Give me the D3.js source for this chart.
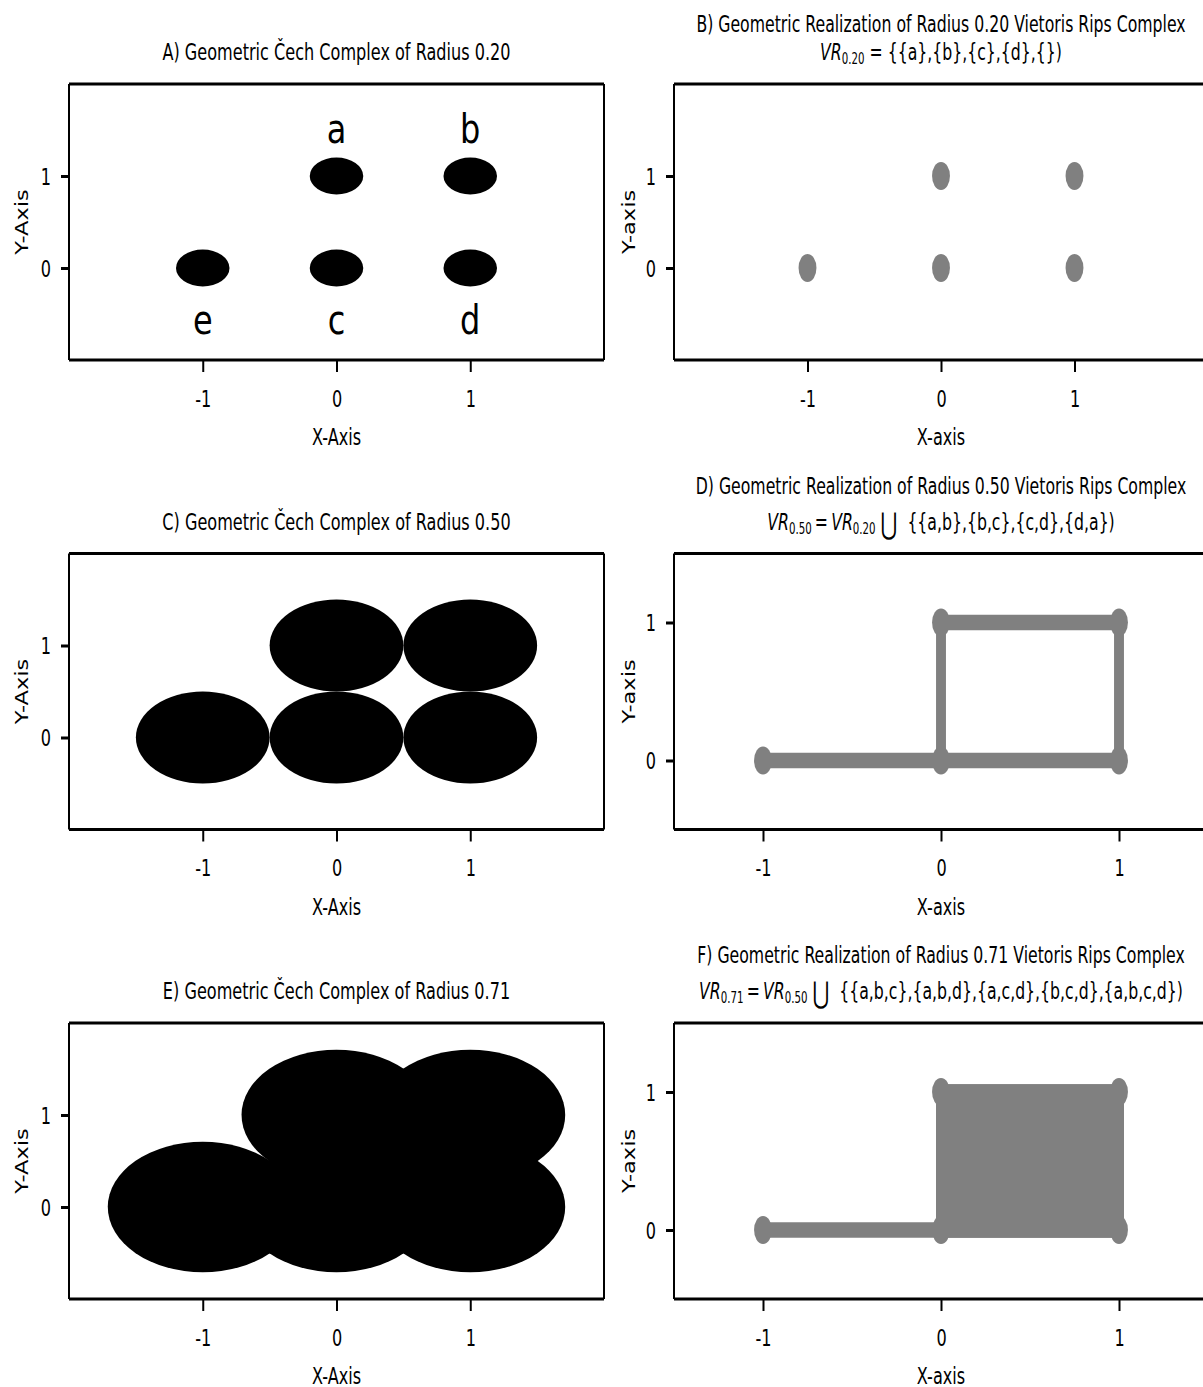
<!DOCTYPE html>
<html>
<head>
<meta charset="utf-8">
<script src="https://cdn.jsdelivr.net/npm/d3@7"></script>
<style>
body { margin: 0; background: #fff; }
svg { display: block; font-family: "DejaVu Sans", sans-serif; }
</style>
</head>
<body>
<svg id="fig" width="1203" height="1387"></svg>
<script>
// points of the complex
var pointNames = ["a", "b", "c", "d", "e"];
var pointX = [0, 1, 0, 1, -1];
var pointY = [1, 1, 0, 0, 0];

// Cech radii (left column)
var cechRadii = [0.20, 0.50, 0.71];
var cechTitles = [
  "A) Geometric Čech Complex of Radius 0.20",
  "C) Geometric Čech Complex of Radius 0.50",
  "E) Geometric Čech Complex of Radius 0.71"
];

// Vietoris Rips (right column)
var vrTitles = [
  "B) Geometric Realization of Radius 0.20 Vietoris Rips Complex",
  "D) Geometric Realization of Radius 0.50 Vietoris Rips Complex",
  "F) Geometric Realization of Radius 0.71 Vietoris Rips Complex"
];
var vrSub = ["0.20", "0.50", "0.71"];
var vrPrev = [null, "0.20", "0.50"];
var vrAdded = [
  "{{a},{b},{c},{d},{})",
  "{{a,b},{b,c},{c,d},{d,a})",
  "{{a,b,c},{a,b,d},{a,c,d},{b,c,d},{a,b,c,d})"
];
var edges = [["a", "b"], ["a", "c"], ["b", "d"], ["c", "d"], ["e", "c"]];
var faces = [["a", "b", "d", "c"]];
var vrEdges = [[], edges, edges];
var vrFaces = [[], [], faces];

// axes
var xTicks = [-1, 0, 1];
var yTicks = [0, 1];
var cechXDomain = [-2, 2], cechYDomain = [-1, 2];
var vrXDomains = [[-2, 2], [-1.5, 1.5], [-1.5, 1.5]];
var vrYDomains = [[-1, 2], [-0.5, 1.5], [-0.5, 1.5]];

var svg = d3.select("#fig");
var fs = 23;        // font size
var kx = 0.70;      // horizontal squeeze of text
var kr = 0.683;     // squeeze for the right column titles
var mk = 0.64;      // horizontal squeeze of markers/lines
var rowTop = [84, 553.5, 1023], rowH = 276;
var colLeft = [69, 604], colRight = [674, 1208];
var gray = "#808080";

function idx(name) { return pointNames.indexOf(name); }

function drawAxes(left, right, top, xd, yd, xlab, ylab, ylabX) {
  var bottom = top + rowH;
  var x = d3.scaleLinear().domain(xd).range([left, right]);
  var y = d3.scaleLinear().domain(yd).range([bottom, top]);
  var g = svg.append("g");

  // x axis
  var ax = g.append("g")
    .attr("transform", "translate(0," + bottom + ")")
    .call(d3.axisBottom(x).tickValues(xTicks).tickSize(12).tickSizeOuter(0)
      .tickFormat(function(d) { return String(d); }));
  ax.select(".domain").remove();
  ax.selectAll("line").attr("stroke", "#000").attr("stroke-width", 2);
  ax.selectAll("text")
    .attr("y", 47).attr("dy", null)
    .attr("font-size", fs).attr("font-family", "DejaVu Sans").attr("fill", "#000")
    .attr("transform", "scale(" + kx + ",1)");

  // y axis
  var ay = g.append("g")
    .attr("transform", "translate(" + left + ",0)")
    .call(d3.axisLeft(y).tickValues(yTicks).tickSize(8).tickSizeOuter(0)
      .tickFormat(function(d) { return String(d); }));
  ay.select(".domain").remove();
  ay.selectAll("line").attr("stroke", "#000").attr("stroke-width", 3);
  ay.selectAll("text")
    .attr("x", -18 / kx).attr("dy", "0.36em")
    .attr("font-size", fs).attr("font-family", "DejaVu Sans").attr("fill", "#000")
    .attr("transform", "scale(" + kx + ",1)");

  // labels
  g.append("text")
    .attr("transform", "translate(" + ((left + right) / 2) + "," + (bottom + 85) + ") scale(" + kx + ",1)")
    .attr("text-anchor", "middle").attr("font-size", fs)
    .text(xlab);
  g.append("text")
    .attr("transform", "translate(" + ylabX + "," + ((top + bottom) / 2) + ") rotate(-90) scale(1,0.8)")
    .attr("text-anchor", "middle").attr("font-size", 22.5)
    .text(ylab);

  return { g: g, x: x, y: y, top: top, bottom: bottom, left: left, right: right };
}

function drawFrame(p) {
  var f = p.g.append("g").attr("stroke", "#000");
  f.append("line").attr("x1", p.left).attr("x2", p.right).attr("y1", p.top).attr("y2", p.top).attr("stroke-width", 3);
  f.append("line").attr("x1", p.left).attr("x2", p.right).attr("y1", p.bottom).attr("y2", p.bottom).attr("stroke-width", 3);
  f.append("line").attr("x1", p.left).attr("x2", p.left).attr("y1", p.top).attr("y2", p.bottom).attr("stroke-width", 2);
  f.append("line").attr("x1", p.right).attr("x2", p.right).attr("y1", p.top).attr("y2", p.bottom).attr("stroke-width", 2);
}

// LEFT COLUMN: Cech complexes
cechRadii.forEach(function(r, i) {
  var p = drawAxes(colLeft[0], colLeft[1], rowTop[i], cechXDomain, cechYDomain, "X-Axis", "Y-Axis", 28);

  p.g.selectAll(".ball")
    .data(pointNames)
    .enter().append("ellipse")
    .attr("class", "ball")
    .attr("cx", function(d, j) { return p.x(pointX[j]); })
    .attr("cy", function(d, j) { return p.y(pointY[j]); })
    .attr("rx", p.x(r) - p.x(0))
    .attr("ry", p.y(0) - p.y(r))
    .attr("fill", "#000");

  if (i === 0) {
    p.g.selectAll(".lbl")
      .data(pointNames)
      .enter().append("text")
      .attr("class", "lbl")
      .attr("transform", function(d, j) {
        var ly = pointY[j] === 1 ? pointY[j] + 0.36 : pointY[j] - 0.72;
        return "translate(" + p.x(pointX[j]) + "," + p.y(ly) + ") scale(0.78,1)";
      })
      .attr("text-anchor", "middle")
      .attr("font-size", 41)
      .text(function(d) { return d; });
  }

  drawFrame(p);

  p.g.append("text")
    .attr("transform", "translate(" + ((p.left + p.right) / 2) + "," + (p.top - 24) + ") scale(" + kx + ",1)")
    .attr("text-anchor", "middle").attr("font-size", fs)
    .text(cechTitles[i]);
});

// RIGHT COLUMN: Vietoris Rips realizations
vrTitles.forEach(function(t, i) {
  var p = drawAxes(colRight[0], colRight[1], rowTop[i], vrXDomains[i], vrYDomains[i], "X-axis", "Y-axis", 634.6);

  // marks drawn in a squeezed frame
  var xs = p.x.copy().range([colRight[0] / mk, colRight[1] / mk]);
  var mg = p.g.append("g").attr("transform", "scale(" + mk + ",1)");

  mg.selectAll(".face")
    .data(vrFaces[i])
    .enter().append("polygon")
    .attr("class", "face")
    .attr("points", function(f) {
      return f.map(function(n) { return xs(pointX[idx(n)]) + "," + p.y(pointY[idx(n)]); }).join(" ");
    })
    .attr("fill", gray).attr("stroke", gray).attr("stroke-width", 15.5);

  mg.selectAll(".edge")
    .data(vrEdges[i])
    .enter().append("line")
    .attr("class", "edge")
    .attr("x1", function(e) { return xs(pointX[idx(e[0])]); })
    .attr("y1", function(e) { return p.y(pointY[idx(e[0])]); })
    .attr("x2", function(e) { return xs(pointX[idx(e[1])]); })
    .attr("y2", function(e) { return p.y(pointY[idx(e[1])]); })
    .attr("stroke", gray).attr("stroke-width", 15.5);

  mg.selectAll(".pt")
    .data(pointNames)
    .enter().append("circle")
    .attr("class", "pt")
    .attr("cx", function(d, j) { return xs(pointX[j]); })
    .attr("cy", function(d, j) { return p.y(pointY[j]); })
    .attr("r", 14)
    .attr("fill", gray);

  drawFrame(p);

  var cxVis = (p.left + p.right) / 2;
  p.g.append("text")
    .attr("transform", "translate(" + cxVis + "," + (p.top - (vrPrev[i] ? 60 : 52)) + ") scale(" + kr + ",1)")
    .attr("text-anchor", "middle").attr("font-size", fs)
    .text(t);

  var t2 = p.g.append("text")
    .attr("transform", "translate(" + cxVis + "," + (p.top - 24) + ") scale(" + kr + ",1)")
    .attr("text-anchor", "middle").attr("font-size", fs);
  t2.append("tspan").attr("font-style", "italic").text("VR");
  t2.append("tspan").attr("font-size", 15).attr("dy", 4).text(vrSub[i]);
  if (vrPrev[i]) {
    t2.append("tspan").attr("dy", -4).text("\u2009=\u2009");
    t2.append("tspan").attr("font-style", "italic").text("VR");
    t2.append("tspan").attr("font-size", 15).attr("dy", 4).text(vrPrev[i]);
    t2.append("tspan").attr("dy", -4).text(" ");
    t2.append("tspan").attr("font-size", 30).attr("dy", 4).text("\u22C3");
    t2.append("tspan").attr("dy", -4).text("\u00a0 " + vrAdded[i]);
  } else {
    t2.append("tspan").attr("dy", -4).text(" = " + vrAdded[i]);
  }
});
</script>
</body>
</html>
